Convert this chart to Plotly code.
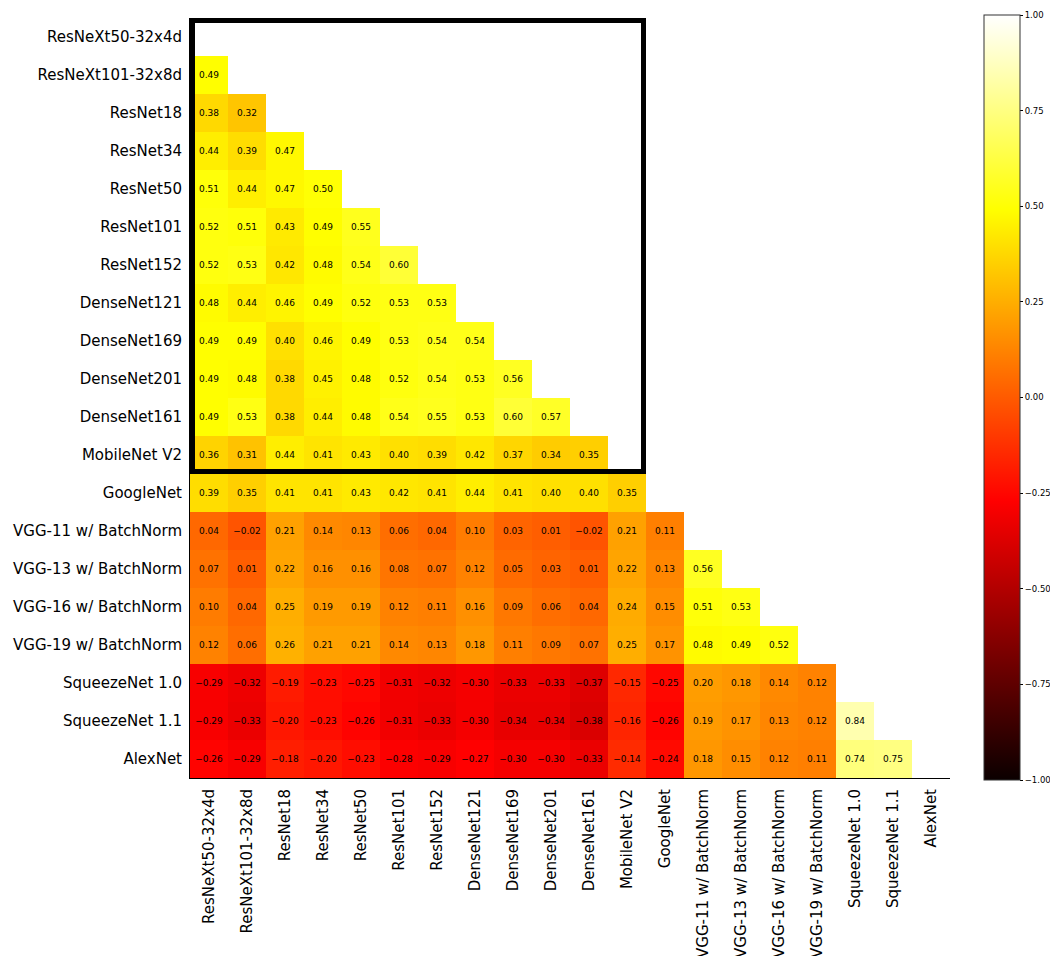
import plotly.graph_objects as go

models = ["ResNeXt50-32x4d", "ResNeXt101-32x8d", "ResNet18", "ResNet34", "ResNet50",
          "ResNet101", "ResNet152", "DenseNet121", "DenseNet169", "DenseNet201",
          "DenseNet161", "MobileNet V2", "GoogleNet", "VGG-11 w/ BatchNorm",
          "VGG-13 w/ BatchNorm", "VGG-16 w/ BatchNorm", "VGG-19 w/ BatchNorm",
          "SqueezeNet 1.0", "SqueezeNet 1.1", "AlexNet"]

# lower-triangle correlations (row i, columns 0..i-1)
row_resnext101 = [0.49]
row_resnet18 = [0.38, 0.32]
row_resnet34 = [0.44, 0.39, 0.47]
row_resnet50 = [0.51, 0.44, 0.47, 0.50]
row_resnet101 = [0.52, 0.51, 0.43, 0.49, 0.55]
row_resnet152 = [0.52, 0.53, 0.42, 0.48, 0.54, 0.60]
row_densenet121 = [0.48, 0.44, 0.46, 0.49, 0.52, 0.53, 0.53]
row_densenet169 = [0.49, 0.49, 0.40, 0.46, 0.49, 0.53, 0.54, 0.54]
row_densenet201 = [0.49, 0.48, 0.38, 0.45, 0.48, 0.52, 0.54, 0.53, 0.56]
row_densenet161 = [0.49, 0.53, 0.38, 0.44, 0.48, 0.54, 0.55, 0.53, 0.60, 0.57]
row_mobilenet = [0.36, 0.31, 0.44, 0.41, 0.43, 0.40, 0.39, 0.42, 0.37, 0.34, 0.35]
row_googlenet = [0.39, 0.35, 0.41, 0.41, 0.43, 0.42, 0.41, 0.44, 0.41, 0.40, 0.40, 0.35]
row_vgg11 = [0.04, -0.02, 0.21, 0.14, 0.13, 0.06, 0.04, 0.10, 0.03, 0.01, -0.02, 0.21, 0.11]
row_vgg13 = [0.07, 0.01, 0.22, 0.16, 0.16, 0.08, 0.07, 0.12, 0.05, 0.03, 0.01, 0.22, 0.13, 0.56]
row_vgg16 = [0.10, 0.04, 0.25, 0.19, 0.19, 0.12, 0.11, 0.16, 0.09, 0.06, 0.04, 0.24, 0.15, 0.51, 0.53]
row_vgg19 = [0.12, 0.06, 0.26, 0.21, 0.21, 0.14, 0.13, 0.18, 0.11, 0.09, 0.07, 0.25, 0.17, 0.48, 0.49, 0.52]
row_squeeze10 = [-0.29, -0.32, -0.19, -0.23, -0.25, -0.31, -0.32, -0.30, -0.33, -0.33, -0.37, -0.15,
                 -0.25, 0.20, 0.18, 0.14, 0.12]
row_squeeze11 = [-0.29, -0.33, -0.20, -0.23, -0.26, -0.31, -0.33, -0.30, -0.34, -0.34, -0.38, -0.16,
                 -0.26, 0.19, 0.17, 0.13, 0.12, 0.84]
row_alexnet = [-0.26, -0.29, -0.18, -0.20, -0.23, -0.28, -0.29, -0.27, -0.30, -0.30, -0.33, -0.14,
               -0.24, 0.18, 0.15, 0.12, 0.11, 0.74, 0.75]

lower_rows = [[], row_resnext101, row_resnet18, row_resnet34, row_resnet50, row_resnet101,
              row_resnet152, row_densenet121, row_densenet169, row_densenet201, row_densenet161,
              row_mobilenet, row_googlenet, row_vgg11, row_vgg13, row_vgg16, row_vgg19,
              row_squeeze10, row_squeeze11, row_alexnet]

cbar_ticks = [-1.0, -0.75, -0.5, -0.25, 0.0, 0.25, 0.5, 0.75, 1.0]
highlight_n = 12  # models enclosed in the black box

n = len(models)
z = []
text = []
for i in range(n):
    zr, tr = [], []
    for j in range(n):
        if j < len(lower_rows[i]):
            v = lower_rows[i][j]
            zr.append(v)
            tr.append(f"{v:.2f}".replace("-", "\u2212"))
        else:
            zr.append(None)
            tr.append("")
    z.append(zr)
    text.append(tr)

hot = [[0.0, "rgb(11,0,0)"], [0.365079, "rgb(255,0,0)"],
       [0.746032, "rgb(255,255,0)"], [1.0, "rgb(255,255,255)"]]

FONT = "DejaVu Sans"
# page has an 8px body margin; figure sized to fill the 1058x956 window
W, H = 1050, 948
L, T = 182, 10
pw, ph = 760, 760
R = W - L - pw
B = H - T - ph

fig = go.Figure(go.Heatmap(
    z=z, x=list(range(n)), y=list(range(n)), text=text, texttemplate="%{text}",
    textfont=dict(family=FONT, size=9, color="black"),
    colorscale=hot, zmin=-1, zmax=1, hoverongaps=False,
    colorbar=dict(
        x=(976 - L) / pw, xanchor="left", xpad=0,
        y=1 - (389.5 - T) / ph, yanchor="middle", ypad=0,
        len=765, lenmode="pixels", thickness=36, thicknessmode="pixels",
        outlinecolor="#333333", outlinewidth=1,
        tickvals=cbar_ticks, tickformat=".2f", ticks="outside", ticklen=3, tickcolor="black",
        tickfont=dict(family=FONT, size=8.5, color="black"),
    ),
))

cell_px = pw / n
d = 2.5 / cell_px
fig.add_shape(type="rect", x0=-0.5 + d, x1=highlight_n - 0.5 - d,
              y0=-0.5 + d, y1=highlight_n - 0.5 - d,
              line=dict(color="black", width=5), xref="x", yref="y")

fig.update_xaxes(range=[-0.5, n - 0.5], tickvals=list(range(n)), ticktext=models,
                 tickangle=-90, showgrid=False, zeroline=False, showline=True,
                 linecolor="black", linewidth=1, ticks="outside", ticklen=4,
                 tickcolor="rgba(0,0,0,0)",
                 tickfont=dict(family=FONT, size=15, color="black"))
fig.update_yaxes(range=[n - 0.5, -0.5], tickvals=list(range(n)), ticktext=models,
                 showgrid=False, zeroline=False, showline=True,
                 linecolor="black", linewidth=1, ticks="outside", ticklen=4,
                 tickcolor="rgba(0,0,0,0)",
                 tickfont=dict(family=FONT, size=15, color="black"))

fig.update_layout(width=W, height=H, margin=dict(l=L, r=R, t=T, b=B, autoexpand=False),
                  plot_bgcolor="white", paper_bgcolor="white",
                  font=dict(family=FONT, color="black"))

fig.write_html("out.html")
